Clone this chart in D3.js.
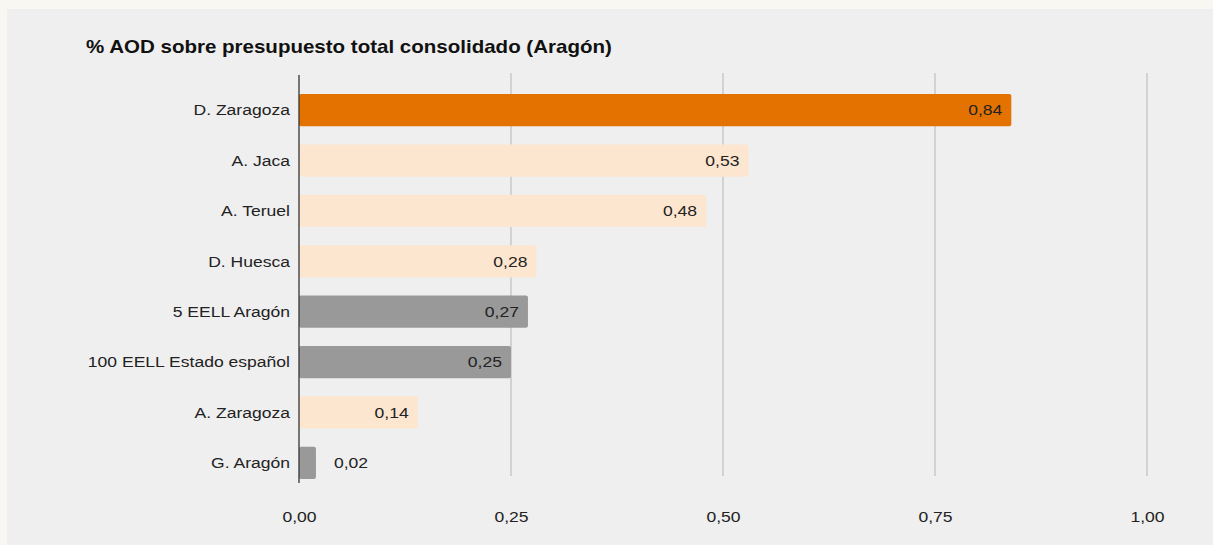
<!DOCTYPE html>
<html><head><meta charset="utf-8">
<script src="https://cdn.jsdelivr.net/npm/d3@7"></script>
<style>
html,body{margin:0;padding:0;background:#f8f7f2;}
svg{display:block;font-family:"Liberation Sans",Arial,sans-serif;}
</style></head><body>
<svg id="c" width="1213" height="545"></svg>
<script>
const categories = ["D. Zaragoza","A. Jaca","A. Teruel","D. Huesca","5 EELL Aragón","100 EELL Estado español","A. Zaragoza","G. Aragón"];
const values = [0.84,0.53,0.48,0.28,0.27,0.25,0.14,0.02];
const groups = ["highlight","diputacion","diputacion","diputacion","aggregate","aggregate","diputacion","aggregate"];
const tickValues = [0,0.25,0.5,0.75,1.0];
const title = "% AOD sobre presupuesto total consolidado (Aragón)";

const colorOf = {highlight:"#e37200", diputacion:"#fde6cf", aggregate:"#999999"};
const SX = 1.17; // horizontal text stretch seen in reference
const svg = d3.select("#c");
svg.append("rect").attr("x",7).attr("y",9).attr("width",1206).attr("height",536).attr("fill","#efefef");

const x = d3.scaleLinear().domain([0,1]).range([299,1147]);
const y = d3.scaleBand().domain(categories).range([85,488]).paddingInner(0.36).paddingOuter(0.18);

svg.append("g").attr("transform","translate(86,53) scale(1.14,1)")
  .append("text").attr("font-size",18).attr("font-weight","bold").attr("fill","#111").text(title);

// grid
svg.append("g").selectAll("line").data(tickValues.slice(1)).join("line")
  .attr("x1",d=>x(d)).attr("x2",d=>x(d)).attr("y1",73).attr("y2",476)
  .attr("stroke","#c8c8c8").attr("stroke-width",1.5);

const data = categories.map((c,i)=>({c,v:values[i],g:groups[i]}));
svg.append("g").selectAll("rect").data(data).join("rect")
  .attr("x",x(0)).attr("y",d=>y(d.c)).attr("width",d=>x(d.v)-x(0)).attr("height",y.bandwidth())
  .attr("rx",2).attr("fill",d=>colorOf[d.g]);

const fmt = v => d3.format(".2f")(v).replace(".",",");
const inside = d => (x(d.v)-x(0))>50;
svg.append("g").selectAll("g").data(data).join("g")
  .attr("transform",d=>`translate(${inside(d) ? x(d.v)-9 : x(d.v)+18},${y(d.c)+y.bandwidth()/2}) scale(${SX},1)`)
  .append("text")
  .attr("text-anchor",d=> inside(d) ? "end":"start")
  .attr("dy","0.35em").attr("font-size",15).attr("fill","#222").text(d=>fmt(d.v));

// category labels
svg.append("g").selectAll("g").data(categories).join("g")
  .attr("transform",d=>`translate(290,${y(d)+y.bandwidth()/2}) scale(${SX},1)`)
  .append("text").attr("dy","0.35em")
  .attr("text-anchor","end").attr("font-size",15).attr("fill","#222").text(d=>d);

// zero axis
svg.append("line").attr("x1",x(0)).attr("x2",x(0)).attr("y1",75).attr("y2",483).attr("stroke","#333").attr("stroke-width",1.3);

// x axis tick labels
const ax = svg.append("g").attr("transform","translate(0,508)")
  .call(d3.axisBottom(x).tickValues(tickValues).tickFormat(fmt).tickSize(0));
ax.select(".domain").remove();
ax.selectAll(".tick text").attr("font-size",15).attr("fill","#222")
  .attr("font-family","Liberation Sans, Arial, sans-serif")
  .attr("transform",`scale(${SX},1)`);
</script></body></html>
